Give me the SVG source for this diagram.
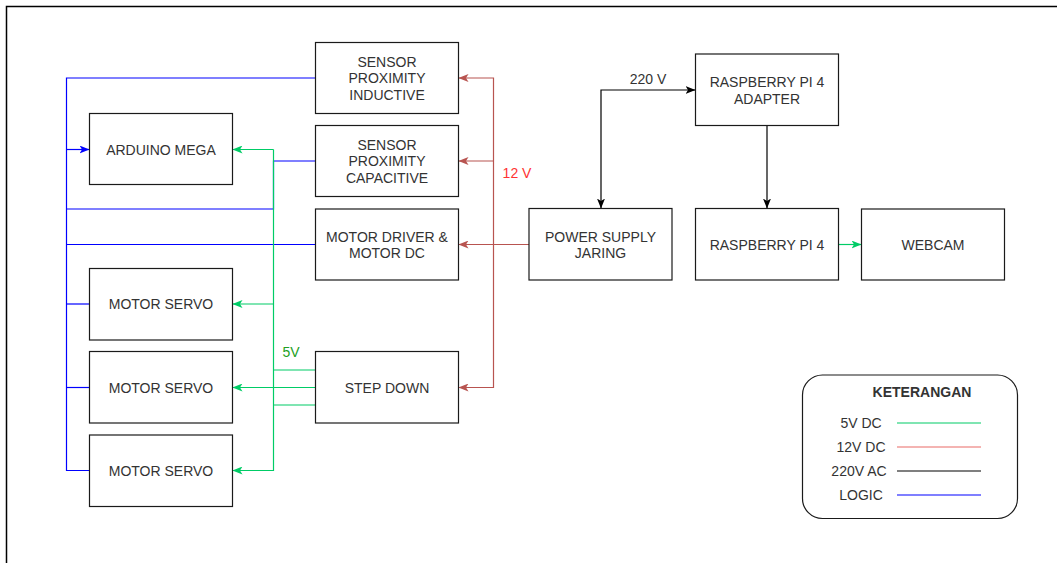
<svg xmlns="http://www.w3.org/2000/svg" width="1057" height="563" viewBox="0 0 1057 563">
<style>
.box{fill:#fff;stroke:#1a1a1a;stroke-width:1.2}
.t{font-family:"Liberation Sans",Arial,sans-serif;font-size:14px;fill:#333;text-anchor:middle}
.c{fill:none;stroke-width:1.2}
.g{stroke:#00CC66}
.r{stroke:#B85450}
.b{stroke:#0000FF}
.k{stroke:#000}
</style>
<defs>
<marker id="ag" viewBox="0 0 10 8" refX="10" refY="4" markerWidth="10" markerHeight="8" markerUnits="userSpaceOnUse" orient="auto"><path d="M0,0 L10,4 L0,8 L2.5,4 Z" fill="#00CC66"/></marker>
<marker id="ar" viewBox="0 0 10 8" refX="10" refY="4" markerWidth="10" markerHeight="8" markerUnits="userSpaceOnUse" orient="auto"><path d="M0,0 L10,4 L0,8 L2.5,4 Z" fill="#B85450"/></marker>
<marker id="ab" viewBox="0 0 10 8" refX="10" refY="4" markerWidth="10" markerHeight="8" markerUnits="userSpaceOnUse" orient="auto"><path d="M0,0 L10,4 L0,8 L2.5,4 Z" fill="#0000FF"/></marker>
<marker id="ak" viewBox="0 0 10 8" refX="10" refY="4" markerWidth="10" markerHeight="8" markerUnits="userSpaceOnUse" orient="auto-start-reverse"><path d="M0,0 L10,4 L0,8 L2.5,4 Z" fill="#000"/></marker>
</defs>
<rect width="1057" height="563" fill="#fff"/>
<path d="M6.5,563 V6.5 H1057" fill="none" stroke="#000" stroke-width="1.5"/>

<g id="connectors">
<path class="c b" d="M315.5,78 H66.5 V470.5 H89.5"/>
<path class="c b" d="M66.5,149.5 H89.5" marker-end="url(#ab)"/>
<path class="c b" d="M315.5,161 H273.5 V209 H66.5"/>
<path class="c b" d="M315.5,244.5 H66.5"/>
<path class="c b" d="M66.5,304 H89.5"/>
<path class="c b" d="M66.5,387.5 H89.5"/>

<path class="c g" d="M273.5,149.5 V470.5 H232.5" marker-end="url(#ag)"/>
<path class="c g" d="M273.5,149.5 H232.5" marker-end="url(#ag)"/>
<path class="c g" d="M273.5,304 H232.5" marker-end="url(#ag)"/>
<path class="c g" d="M315.5,387.5 H232.5" marker-end="url(#ag)"/>
<path class="c g" d="M273.5,370 H315.5 M273.5,405 H315.5"/>
<path class="c g" d="M838.5,244.5 H861.5" marker-end="url(#ag)"/>

<path class="c r" d="M529,244.5 H458.5" marker-end="url(#ar)"/>
<path class="c r" d="M493.5,244.5 V78 H458.5" marker-end="url(#ar)"/>
<path class="c r" d="M493.5,161 H458.5" marker-end="url(#ar)"/>
<path class="c r" d="M493.5,244.5 V387.5 H458.5" marker-end="url(#ar)"/>

<path class="c k" d="M601,208.5 V90 H695.5" marker-start="url(#ak)" marker-end="url(#ak)"/>
<path class="c k" d="M767,125.5 V208.5" marker-end="url(#ak)"/>

<text class="t" x="517" y="178" style="fill:#FF3333">12 V</text>
<text class="t" x="291" y="357" style="fill:#22A022">5V</text>
<text class="t" x="648" y="84">220 V</text>
</g>

<g id="sensor-inductive">
<rect class="box" x="315.5" y="42.5" width="143" height="71"/>
<text class="t" x="387" y="66.5">SENSOR</text>
<text class="t" x="387" y="83">PROXIMITY</text>
<text class="t" x="387" y="99.5">INDUCTIVE</text>
</g>
<g id="sensor-capacitive">
<rect class="box" x="315.5" y="125.5" width="143" height="71"/>
<text class="t" x="387" y="149.5">SENSOR</text>
<text class="t" x="387" y="166">PROXIMITY</text>
<text class="t" x="387" y="182.5">CAPACITIVE</text>
</g>
<g id="motor-driver">
<rect class="box" x="315.5" y="209" width="143" height="71"/>
<text class="t" x="387" y="241.5">MOTOR DRIVER &amp;</text>
<text class="t" x="387" y="257.5">MOTOR DC</text>
</g>
<g id="step-down">
<rect class="box" x="315.5" y="351.5" width="143" height="71.5"/>
<text class="t" x="387" y="392.5">STEP DOWN</text>
</g>
<g id="arduino-mega">
<rect class="box" x="89.5" y="113.5" width="143" height="71"/>
<text class="t" x="161" y="154.5">ARDUINO MEGA</text>
</g>
<g id="servo-1">
<rect class="box" x="89.5" y="268.5" width="143" height="71.5"/>
<text class="t" x="161" y="309">MOTOR SERVO</text>
</g>
<g id="servo-2">
<rect class="box" x="89.5" y="351.5" width="143" height="71.5"/>
<text class="t" x="161" y="392.5">MOTOR SERVO</text>
</g>
<g id="servo-3">
<rect class="box" x="89.5" y="435" width="143" height="71.5"/>
<text class="t" x="161" y="475.5">MOTOR SERVO</text>
</g>
<g id="power-supply">
<rect class="box" x="529" y="208.5" width="143" height="71.5"/>
<text class="t" x="600.5" y="241.5">POWER SUPPLY</text>
<text class="t" x="600.5" y="257.5">JARING</text>
</g>
<g id="rpi-adapter">
<rect class="box" x="695.5" y="54" width="143" height="71.5"/>
<text class="t" x="767" y="87">RASPBERRY PI 4</text>
<text class="t" x="767" y="103.5">ADAPTER</text>
</g>
<g id="rpi4">
<rect class="box" x="695.5" y="208.5" width="143" height="71.5"/>
<text class="t" x="767" y="249.5">RASPBERRY PI 4</text>
</g>
<g id="webcam">
<rect class="box" x="861.5" y="209" width="143" height="71"/>
<text class="t" x="933" y="249.5">WEBCAM</text>
</g>

<g id="legend">
<rect class="box" x="802.5" y="375" width="215" height="143.5" rx="20" ry="20"/>
<text class="t" x="922" y="397" style="font-weight:bold">KETERANGAN</text>
<text class="t" x="861" y="428">5V DC</text>
<text class="t" x="861" y="452">12V DC</text>
<text class="t" x="859" y="476">220V AC</text>
<text class="t" x="861" y="500">LOGIC</text>
<path class="c" d="M897,423 H981" stroke="#00CC66"/>
<path class="c" d="M897,447 H981" stroke="#EA6B66"/>
<path class="c" d="M897,471 H981" stroke="#000"/>
<path class="c" d="M897,495 H981" stroke="#0000FF"/>
</g>
</svg>
